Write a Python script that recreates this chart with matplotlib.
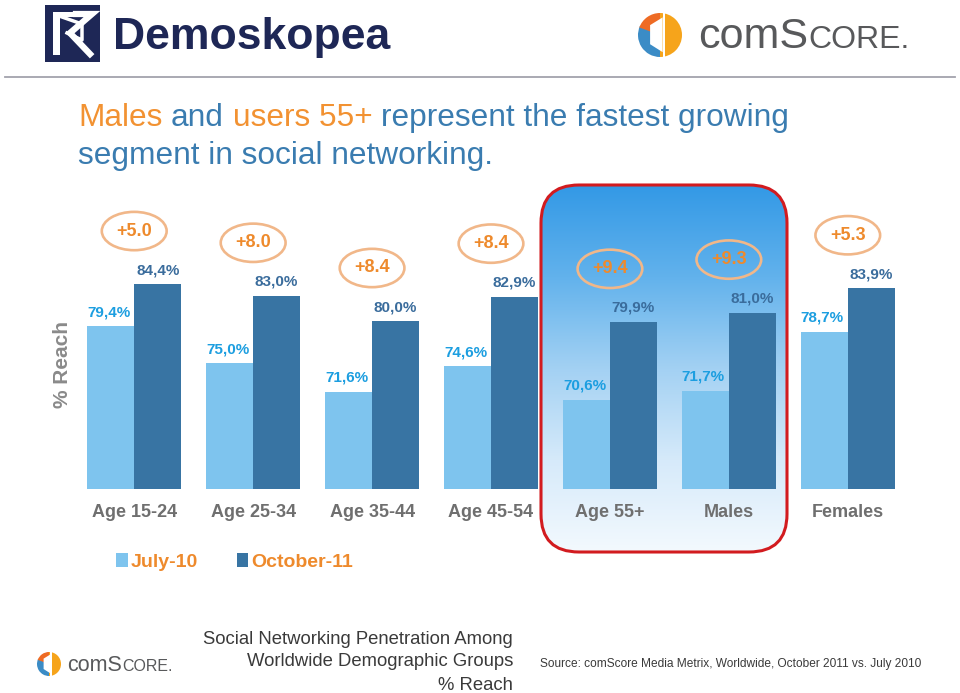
import numpy as np
import matplotlib
matplotlib.use("Agg")
import matplotlib.pyplot as plt
import matplotlib.patches as mpatches
from matplotlib.colors import LinearSegmentedColormap

# ============================================================
# DATA
# ============================================================

categories = ["Age 15-24", "Age 25-34", "Age 35-44", "Age 45-54", "Age 55+", "Males", "Females"]
july_10 = [79.4, 75.0, 71.6, 74.6, 70.6, 71.7, 78.7]
october_11 = [84.4, 83.0, 80.0, 82.9, 79.9, 81.0, 83.9]
growth_labels = ["+5.0", "+8.0", "+8.4", "+8.4", "+9.4", "+9.3", "+5.3"]
series_names = ["July-10", "October-11"]

# ============================================================
# STYLE
# ============================================================

W, H = 960, 693
NARROW = ["Liberation Sans Narrow", "Liberation Sans", "DejaVu Sans"]
SANS = ["Liberation Sans", "DejaVu Sans"]

C_LIGHT = "#7EC4EE"
C_DARK = "#3874A3"
C_LIGHT_TXT = "#1C9EE0"
C_DARK_TXT = "#3A6C9C"
C_ORANGE = "#EE8A2C"
C_ELLIPSE = "#F1B789"
C_GRAY = "#6F6F6F"
C_TITLE_BLUE = "#3A7CB0"
C_TITLE_ORANGE = "#F29232"
C_NAVY = "#1E2756"

PX = 72 / 100  # points per pixel at dpi 100


def fx(px):
    return px / W


def fy(py):
    return 1 - py / H


fig = plt.figure(figsize=(W / 100, H / 100), dpi=100)
fig.patch.set_facecolor("white")

# background axes in pixel coordinates
bg = fig.add_axes([0, 0, 1, 1])
bg.set_xlim(0, W)
bg.set_ylim(H, 0)
bg.axis("off")

# ============================================================
# HIGHLIGHT BOX (gradient + red rounded border)
# ============================================================

box = mpatches.FancyBboxPatch((541, 185), 246, 367,
                              boxstyle="round,pad=0,rounding_size=38",
                              facecolor="none", edgecolor="#D21B1F",
                              linewidth=2.2, zorder=3)
bg.add_patch(box)
grad_cmap = LinearSegmentedColormap.from_list(
    "hl", ["#3399E6", "#62B2EC", "#A3D1F3", "#D6EAFA", "#F3F9FE"])
grad = np.linspace(0, 1, 256).reshape(-1, 1)
im = bg.imshow(grad, cmap=grad_cmap, extent=[541, 787, 552, 185],
               aspect="auto", origin="upper", zorder=2)
im.set_clip_path(box)
bg.set_xlim(0, W)
bg.set_ylim(H, 0)

# ============================================================
# HEADER
# ============================================================

# Demoskopea logo
bg.add_patch(mpatches.Rectangle((45, 5), 55, 57, facecolor=C_NAVY, edgecolor="none"))
bg.add_patch(mpatches.Polygon([(53, 12), (60, 12), (60, 55), (53, 55)], facecolor="white"))
bg.add_patch(mpatches.Polygon([(60, 12), (77, 12), (77, 17), (60, 17)], facecolor="white"))
bg.plot([76, 92, 70, 90], [14, 14, 33, 54], color="white", lw=4.5, solid_joinstyle="miter")
bg.plot([62, 82, 82, 67], [17, 24, 40, 33], color="white", lw=2.5)
bg.text(113, 38, "Demoskopea", family=SANS, weight="bold", fontsize=32,
        color=C_NAVY, va="center", ha="left")


def comscore_icon(cx, cy, r):
    bg.add_patch(mpatches.Wedge((cx, cy), r, -90, 90, facecolor="#F6A41B", edgecolor="none"))
    bg.add_patch(mpatches.Wedge((cx, cy), r, 90, 205, facecolor="#3B8CC6", edgecolor="none"))
    bg.add_patch(mpatches.Wedge((cx, cy), r, 200, 270, facecolor="#EE6B24", edgecolor="none"))
    pts = [(-0.45, -0.42), (0.12, -0.78), (0.12, 0.8), (-0.45, 0.45)]
    bg.add_patch(mpatches.Polygon([(cx + a * r, cy - b * r) for a, b in pts],
                                  facecolor="white", edgecolor="none"))
    bg.add_patch(mpatches.Rectangle((cx + 0.12 * r, cy - r), 0.1 * r, 2 * r,
                                    facecolor="white", edgecolor="none"))


def draw_pieces(pieces, x, y, **kw):
    r = fig.canvas.get_renderer()
    for txt, size, color in pieces:
        t = bg.text(x, y, txt, fontsize=size, color=color, va="baseline", ha="left", **kw)
        x += t.get_window_extent(renderer=r).width


comscore_icon(660, 35, 22)
draw_pieces([("comS", 31, "#58595B"), ("CORE.", 23, "#58595B")], 698, 48, family=SANS)

bg.plot([5, 955], [77, 77], color="#A3A3AD", lw=1.3)

# ============================================================
# TITLE
# ============================================================

renderer = fig.canvas.get_renderer()


def draw_title_line(pieces, x, y, size):
    tmp = bg.text(0, 0, "a a", fontsize=size, family=SANS)
    tmp2 = bg.text(0, 0, "aa", fontsize=size, family=SANS)
    space = tmp.get_window_extent(renderer=renderer).width - tmp2.get_window_extent(renderer=renderer).width
    tmp.remove()
    tmp2.remove()
    for txt, color in pieces:
        t = bg.text(x, y, txt, fontsize=size, family=SANS, color=color, va="baseline", ha="left")
        x += t.get_window_extent(renderer=renderer).width + space


draw_title_line([("Males", C_TITLE_ORANGE), ("and", C_TITLE_BLUE), ("users 55+", C_TITLE_ORANGE),
                 ("represent the fastest growing", C_TITLE_BLUE)], 78, 126, 22.8)
draw_title_line([("segment in social networking.", C_TITLE_BLUE)], 78, 164, 22.8)

# ============================================================
# BARS
# ============================================================

ax = fig.add_axes([fx(70), fy(489), fx(912) - fx(70), (489 - 153) / H])
ax.patch.set_alpha(0)
ax.set_zorder(5)
x = np.arange(len(categories))
w = 0.395

b1 = ax.bar(x - w / 2, july_10, w, color=C_LIGHT, label=series_names[0])
b2 = ax.bar(x + w / 2, october_11, w, color=C_DARK, label=series_names[1])
ax.set_ylim(60, 100)
ax.set_xlim(-0.54, 6.54)
for s in ax.spines.values():
    s.set_visible(False)
ax.set_yticks([])
ax.set_xticks(x)
ax.set_xticklabels(categories, family=NARROW, weight="bold", fontsize=13, color=C_GRAY)
ax.tick_params(axis="x", length=0, pad=11)

for xi, v in zip(x, july_10):
    ax.annotate(f"{v:.1f}%".replace(".", ","), (xi - w / 2, v),
                xytext=(-2 * PX, 7 * PX), textcoords="offset points",
                ha="center", va="bottom", family=NARROW, weight="bold",
                fontsize=11, color=C_LIGHT_TXT)
for xi, v in zip(x, october_11):
    ax.annotate(f"{v:.1f}%".replace(".", ","), (xi + w / 2, v),
                xytext=(0, 7 * PX), textcoords="offset points",
                ha="center", va="bottom", family=NARROW, weight="bold",
                fontsize=11, color=C_DARK_TXT)
for xi, v, g in zip(x, october_11, growth_labels):
    ax.annotate(g, (xi, v), xytext=(0, 53 * PX), textcoords="offset points",
                ha="center", va="center", family=NARROW, weight="bold",
                fontsize=13, color=C_ORANGE,
                bbox=dict(boxstyle="ellipse,pad=0.28", facecolor="none",
                          edgecolor=C_ELLIPSE, linewidth=1.9))

fig.text(fx(62), fy(365), "% Reach", rotation=90, ha="center", va="center",
         family=SANS, weight="bold", fontsize=15, color="#8A8A8A")

# ============================================================
# LEGEND
# ============================================================

leg = ax.legend(handles=[b1, b2], loc="center left",
                bbox_to_anchor=(fx(116), fy(562)), bbox_transform=fig.transFigure,
                ncol=2, frameon=False, borderpad=0, borderaxespad=0,
                handlelength=0.6, handleheight=0.75, handletextpad=0.15,
                columnspacing=2.0,
                prop=dict(family=NARROW, weight="bold", size=14))
for t in leg.get_texts():
    t.set_color(C_ORANGE)

# ============================================================
# FOOTER
# ============================================================

comscore_icon(49, 664, 12)
draw_pieces([("comS", 15.5, "#58595B"), ("CORE.", 11.5, "#58595B")], 67, 671, family=SANS)

for i, line in enumerate(["Social Networking Penetration Among",
                          "Worldwide Demographic Groups", "% Reach"]):
    bg.text(513, 639 + 23 * i, line, ha="right", va="center", family=NARROW,
            fontsize=13.3, color="#3A3A3A")
bg.text(540, 664, "Source: comScore Media Metrix, Worldwide, October 2011 vs. July 2010",
        ha="left", va="center", family=NARROW, fontsize=8.6, color="#3A3A3A")

fig.savefig("out.png", dpi=100, facecolor="white")
